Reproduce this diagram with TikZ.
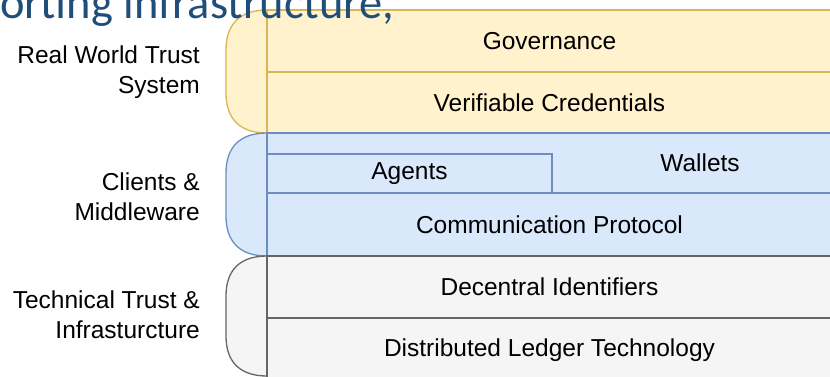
\documentclass[tikz,border=0pt]{standalone}
\usepackage{fontspec}
\setmainfont{Liberation Sans}
\newfontfamily\titlefont{Carlito}
\usepackage{tikz}
\usetikzlibrary{positioning}
\definecolor{govfill}{HTML}{FFF2CC}
\definecolor{govline}{HTML}{D6B656}
\definecolor{clifill}{HTML}{DAE8FC}
\definecolor{cliline}{HTML}{6C8EBF}
\definecolor{tecfill}{HTML}{F5F5F5}
\definecolor{tecline}{HTML}{666666}
\definecolor{titleblue}{HTML}{1F4E79}
\tikzstyle{layer} = [rectangle, line width=1.3pt, minimum width=565pt, inner sep=0pt, font=\fontsize{24.5}{28}\selectfont]
\tikzstyle{gvlayer} = [layer, draw=govline, fill=govfill]
\tikzstyle{cllayer} = [layer, draw=cliline, fill=clifill]
\tikzstyle{tclayer} = [layer, draw=tecline, fill=tecfill]
\tikzstyle{grouplabel} = [anchor=east, align=right, inner sep=0pt, font=\fontsize{24.5}{30}\selectfont]
\tikzstyle{bracket} = [line width=1.3pt]

\begin{document}
\begin{tikzpicture}[x=1pt, y=-1pt]
	\useasboundingbox (0,0) rectangle (830,376);
	\clip (0,0) rectangle (830,376);
	% brackets on the left
	\draw[bracket, draw=govline, fill=govfill] (267,10) .. controls (240,10) and (226,24) .. (226,50) -- (226,93) .. controls (226,119) and (240,133) .. (267,133) -- cycle;
	\draw[bracket, draw=cliline, fill=clifill] (267,133) .. controls (240,133) and (226,147) .. (226,173) -- (226,216) .. controls (226,242) and (240,256) .. (267,256) -- cycle;
	\draw[bracket, draw=tecline, fill=tecfill] (267,256) .. controls (240,256) and (226,270) .. (226,296) -- (226,336) .. controls (226,362) and (240,376) .. (267,376) -- cycle;
	% real world trust
	\node[gvlayer, minimum height=62pt] (gov) at (549.5,41) {Governance};
	\node[gvlayer, minimum height=61pt] (vc) at (549.5,102.5) {Verifiable Credentials};
	% clients and middleware
	\node[cllayer, minimum height=60pt] (cli) at (549.5,163) {};
	\node[cllayer, minimum width=285pt, minimum height=39pt] (agents) at (409.5,173.5) {Agents};
	\node[inner sep=0pt, font=\fontsize{24.5}{28}\selectfont] (wallets) at (700,163) {Wallets};
	\node[cllayer, minimum height=63pt] (comm) at (549.5,224.5) {Communication Protocol};
	% technical trust
	\node[tclayer, minimum height=62pt] (did) at (549.5,287) {Decentral Identifiers};
	\node[tclayer, minimum height=64pt] (dlt) at (549.5,350) {Distributed Ledger Technology};
	% group names
	\node[grouplabel] (rwts) at (200,72) {Real World Trust\\System};
	\node[grouplabel] (cm) at (200,197) {Clients \&\\Middleware};
	\node[grouplabel] (tti) at (200,315) {Technical Trust \&\\Infrasturcture};
	% slide title, cut off at the top, lying over the boxes
	\node[anchor=base west, inner sep=0pt, text=titleblue, font=\titlefont\fontsize{46.5}{50}\selectfont] (title) at (0,18) {orting infrastructure,};
\end{tikzpicture}
\end{document}
